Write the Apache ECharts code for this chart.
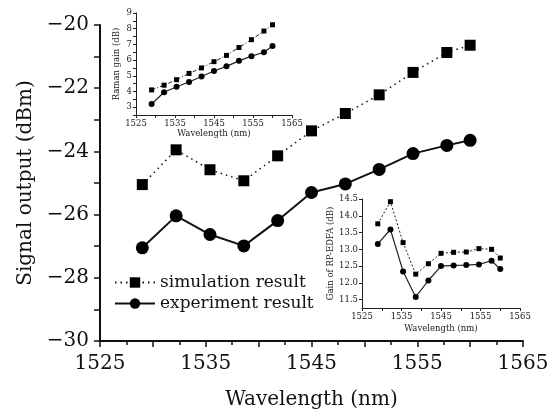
<!DOCTYPE html>
<html>
<head>
<meta charset="utf-8">
<script src="https://cdn.jsdelivr.net/npm/echarts@6/dist/echarts.min.js"></script>
<style>
  html, body { margin: 0; padding: 0; background: #fff; }
  #main { width: 559px; height: 417px; }
</style>
</head>
<body>
<div id="main"></div>
<script>
// wavelengths (nm), same for all three panels
var wavelengths = [1529, 1532.2, 1535.4, 1538.6, 1541.8, 1545, 1548.2, 1551.4, 1554.6, 1557.8, 1560];

// main panel: signal output (dBm)
var simOutput = [-25.05, -23.95, -24.58, -24.93, -24.14, -23.35, -22.80, -22.21, -21.50, -20.87, -20.64];
var expOutput = [-27.05, -26.04, -26.63, -26.99, -26.19, -25.30, -25.03, -24.57, -24.07, -23.81, -23.65];

// top inset: Raman gain (dB)
var simRaman = [4.1, 4.4, 4.75, 5.15, 5.5, 5.9, 6.3, 6.8, 7.3, 7.85, 8.25];
var expRaman = [3.2, 3.95, 4.3, 4.6, 4.95, 5.3, 5.6, 5.95, 6.25, 6.5, 6.9];

// bottom inset: gain of RP-EDFA (dB)
var simEdfa = [13.76, 14.42, 13.2, 12.26, 12.57, 12.88, 12.91, 12.92, 13.02, 13.0, 12.74];
var expEdfa = [13.16, 13.59, 12.34, 11.58, 12.07, 12.5, 12.52, 12.53, 12.55, 12.66, 12.41];

// tick labels
var wlTicks = [1525, 1535, 1545, 1555, 1565];
var outTicks = [-30, -28, -26, -24, -22, -20];
var ramanTicks = [3, 4, 5, 6, 7, 8, 9];
var edfaTicks = [11.5, 12.0, 12.5, 13.0, 13.5, 14.0, 14.5];

var FONT = "DejaVu Serif";

function pairs(ys) {
  return wavelengths.map(function (w, i) { return [w, ys[i]]; });
}

// only print wavelengths from the tick list, no thousands separator
function wlLabel(v) {
  return wlTicks.indexOf(v) >= 0 ? String(v) : "";
}

var chart = echarts.init(document.getElementById("main"));

// small inset axis style
function insetX(gridIndex, nameGap) {
  return {
    type: "value", gridIndex: gridIndex, min: 1525, max: 1565, interval: 5,
    name: "Wavelength (nm)", nameLocation: "middle", nameGap: nameGap,
    nameTextStyle: { fontFamily: FONT, fontSize: 8.5, color: "#222" },
    axisLine: { lineStyle: { color: "#222", width: 1 } },
    axisTick: { length: 3, lineStyle: { color: "#222" } },
    axisLabel: { margin: 4, fontFamily: FONT, fontSize: 8.5, color: "#222", formatter: wlLabel },
    splitLine: { show: false }
  };
}

chart.setOption({
  animation: false,
  backgroundColor: "#fff",
  grid: [
    { left: 100, top: 25, width: 423, height: 316 },   // main
    { left: 136, top: 13, width: 156, height: 102 },   // Raman gain inset
    { left: 362, top: 199, width: 158, height: 109 }   // RP-EDFA inset
  ],
  legend: {
    left: 109, top: 268, orient: "vertical",
    itemWidth: 40, itemHeight: 13, itemGap: 2,
    data: ["simulation result", "experiment result"],
    textStyle: { fontFamily: FONT, fontSize: 17, color: "#111", lineHeight: 19 }
  },
  xAxis: [
    {
      type: "value", gridIndex: 0, min: 1525, max: 1565, interval: 5,
      name: "Wavelength (nm)", nameLocation: "middle", nameGap: 49,
      nameTextStyle: { fontFamily: FONT, fontSize: 20, color: "#111" },
      axisLine: { lineStyle: { color: "#111", width: 2 } },
      axisTick: { length: 6, lineStyle: { color: "#111", width: 1.5 } },
      minorTick: { show: true, splitNumber: 2, length: 4, lineStyle: { color: "#111", width: 1.5 } },
      axisLabel: { margin: 13, fontFamily: FONT, fontSize: 20, color: "#111", formatter: wlLabel },
      splitLine: { show: false }
    },
    insetX(1, 14),
    insetX(2, 16)
  ],
  yAxis: [
    {
      type: "value", gridIndex: 0, min: -30, max: -20, interval: 1,
      name: "Signal output (dBm)", nameLocation: "middle", nameGap: 62,
      nameTextStyle: { fontFamily: FONT, fontSize: 20, color: "#111" },
      axisLine: { show: true, lineStyle: { color: "#111", width: 2 } },
      axisTick: { show: true, length: 6, lineStyle: { color: "#111", width: 1.5 } },
      axisLabel: {
        margin: 11, fontFamily: FONT, fontSize: 20, color: "#111",
        formatter: function (v) {
          return outTicks.indexOf(v) >= 0 ? String(v).replace("-", "\u2212") : "";
        }
      },
      splitLine: { show: false }
    },
    {
      type: "value", gridIndex: 1, min: 2.5, max: 9,
      name: "Raman gain (dB)", nameLocation: "middle", nameGap: 15,
      nameTextStyle: { fontFamily: FONT, fontSize: 8.5, color: "#222" },
      axisLine: { show: true, lineStyle: { color: "#222", width: 1 } },
      axisTick: { show: true, length: 3, customValues: [2.5, 3, 3.5, 4, 4.5, 5, 5.5, 6, 6.5, 7, 7.5, 8, 8.5, 9] },
      axisLabel: { customValues: ramanTicks, margin: 4, fontFamily: FONT, fontSize: 8.5, color: "#222" },
      splitLine: { show: false }
    },
    {
      type: "value", gridIndex: 2, min: 11.25, max: 14.5,
      name: "Gain of RP-EDFA (dB)", nameLocation: "middle", nameGap: 24,
      nameTextStyle: { fontFamily: FONT, fontSize: 8.5, color: "#222" },
      axisLine: { show: true, lineStyle: { color: "#222", width: 1 } },
      axisTick: { show: true, length: 3, customValues: edfaTicks },
      axisLabel: {
        customValues: edfaTicks, margin: 4, fontFamily: FONT, fontSize: 8.5, color: "#222",
        formatter: function (v) { return v.toFixed(1); }
      },
      splitLine: { show: false }
    }
  ],
  series: [
    {
      name: "simulation result", type: "line", xAxisIndex: 0, yAxisIndex: 0,
      data: pairs(simOutput), symbol: "rect", symbolSize: 11,
      itemStyle: { color: "#000" },
      lineStyle: { color: "#111", width: 1.5, type: [1.5, 4] }
    },
    {
      name: "experiment result", type: "line", xAxisIndex: 0, yAxisIndex: 0,
      data: pairs(expOutput), symbol: "circle", symbolSize: 13,
      itemStyle: { color: "#000" },
      lineStyle: { color: "#111", width: 2 }
    },
    {
      name: "raman sim", type: "line", xAxisIndex: 1, yAxisIndex: 1,
      data: pairs(simRaman), symbol: "rect", symbolSize: 5,
      itemStyle: { color: "#000" },
      lineStyle: { color: "#222", width: 1, type: [4, 2, 1, 2] }
    },
    {
      name: "raman exp", type: "line", xAxisIndex: 1, yAxisIndex: 1,
      data: pairs(expRaman), symbol: "circle", symbolSize: 6,
      itemStyle: { color: "#000" },
      lineStyle: { color: "#222", width: 1.2 }
    },
    {
      name: "edfa sim", type: "line", xAxisIndex: 2, yAxisIndex: 2,
      data: pairs(simEdfa), symbol: "rect", symbolSize: 5,
      itemStyle: { color: "#000" },
      lineStyle: { color: "#222", width: 1, type: [2, 2] }
    },
    {
      name: "edfa exp", type: "line", xAxisIndex: 2, yAxisIndex: 2,
      data: pairs(expEdfa), symbol: "circle", symbolSize: 6,
      itemStyle: { color: "#000" },
      lineStyle: { color: "#222", width: 1.2 }
    }
  ]
});
</script>
</body>
</html>
